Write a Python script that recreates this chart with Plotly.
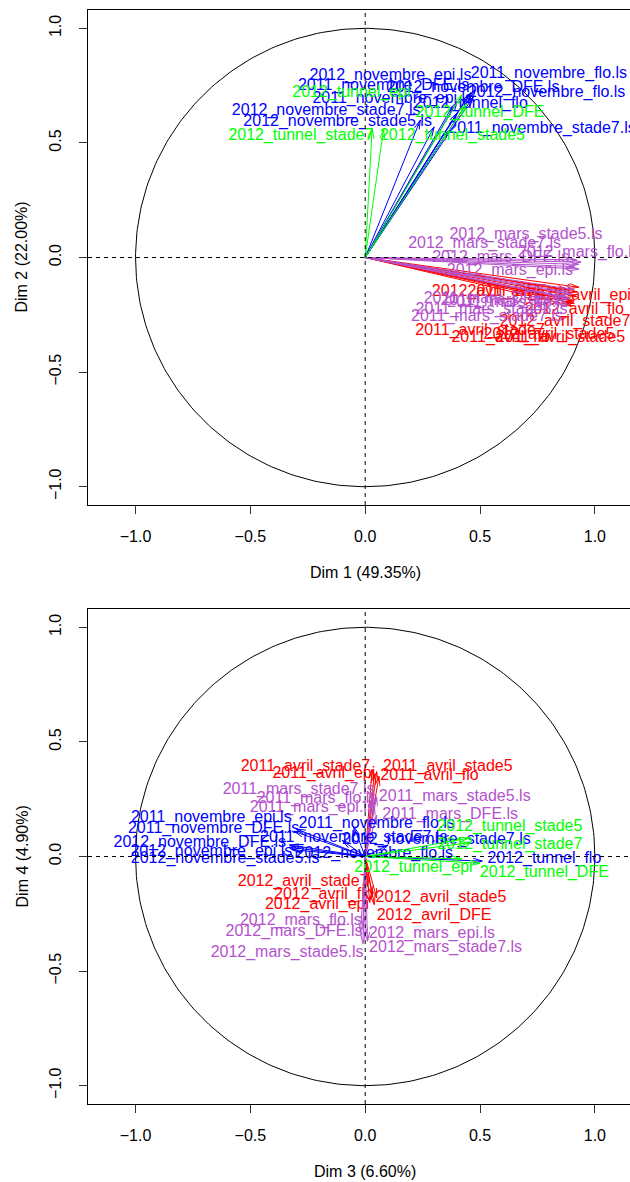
import numpy as np
import plotly.graph_objects as go

# ---------------- data ----------------
variables = [
    "2011_avril_epi", "2011_avril_flo", "2011_avril_stade5", "2011_avril_stade7",
    "2012_avril_epi", "2012_avril_flo", "2012_avril_stade5", "2012_avril_stade7", "2012_avril_DFE",
    "2011_mars_epi.ls", "2011_mars_flo.ls", "2011_mars_stade5.ls", "2011_mars_stade7.ls", "2011_mars_DFE.ls",
    "2012_mars_epi.ls", "2012_mars_flo.ls", "2012_mars_stade5.ls", "2012_mars_stade7.ls", "2012_mars_DFE.ls",
    "2011_novembre_epi.ls", "2011_novembre_flo.ls", "2011_novembre_stade7.ls", "2011_novembre_DFE.ls",
    "2012_novembre_epi.ls", "2012_novembre_flo.ls", "2012_novembre_stade5.ls", "2012_novembre_stade7.ls",
    "2012_novembre_DFE.ls",
    "2012_tunnel_epi", "2012_tunnel_flo", "2012_tunnel_stade5", "2012_tunnel_stade7", "2012_tunnel_DFE",
]
groups = (["avril"] * 9 + ["mars"] * 10 + ["novembre"] * 9 +
          ["tunnel", "novembre", "tunnel", "tunnel", "tunnel"])

dim1 = [0.92, 0.90, 0.91, 0.89, 0.93, 0.92, 0.90, 0.91, 0.88,
        0.88, 0.90, 0.87, 0.89, 0.91,
        0.93, 0.94, 0.92, 0.93, 0.91,
        0.40, 0.48, 0.36, 0.45, 0.38, 0.47, 0.30, 0.24, 0.46,
        0.42, 0.40, 0.08, 0.03, 0.44]
dim2 = [-0.17, -0.19, -0.20, -0.18, -0.13, -0.15, -0.21, -0.19, -0.14,
        -0.15, -0.16, -0.17, -0.18, -0.14,
        -0.05, -0.02, -0.01, -0.03, -0.04,
        0.68, 0.73, 0.55, 0.71, 0.66, 0.70, 0.57, 0.60, 0.72,
        0.71, 0.63, 0.56, 0.56, 0.67]
dim3 = [0.04, 0.06, 0.05, 0.03, 0.02, 0.03, 0.05, 0.01, 0.04,
        0.04, 0.03, 0.05, 0.03, 0.05,
        0.00, -0.01, -0.01, 0.01, -0.02,
        -0.30, -0.05, -0.10, -0.31, -0.33, 0.10, -0.32, 0.10, -0.33,
        0.42, 0.51, 0.45, 0.45, 0.50]
dim4 = [0.36, 0.35, 0.37, 0.38, -0.20, -0.17, -0.18, -0.13, -0.21,
        0.22, 0.25, 0.26, 0.28, 0.18,
        -0.35, -0.30, -0.38, -0.37, -0.33,
        0.12, 0.13, 0.07, 0.11, 0.04, 0.01, 0.03, 0.05, 0.05,
        -0.01, -0.02, 0.08, 0.06, -0.03]

# label centres (placed by the original's label-repel step)
lab12_x = [0.67, 0.59, 0.85, 0.50, 0.93, 0.91, 0.80, 0.87, 0.54,
           0.60, 0.62, 0.55, 0.53, 0.55,
           0.63, 0.93, 0.70, 0.52, 0.59,
           0.12, 0.80, 0.77, 0.08, 0.11, 0.79, -0.12, -0.17, 0.47,
           -0.06, 0.46, 0.38, -0.28, 0.50]
lab12_y = [-0.15, -0.35, -0.35, -0.32, -0.17, -0.23, -0.34, -0.28, -0.15,
           -0.19, -0.20, -0.23, -0.26, -0.18,
           -0.06, 0.02, 0.10, 0.06, 0.00,
           0.69, 0.80, 0.56, 0.75, 0.79, 0.72, 0.59, 0.64, 0.74,
           0.72, 0.67, 0.53, 0.53, 0.63]
lab34_x = [-0.18, 0.28, 0.36, -0.26, -0.21, -0.18, 0.33, -0.27, 0.30,
           -0.23, -0.21, 0.39, -0.29, 0.37,
           0.29, -0.28, -0.34, 0.35, -0.31,
           -0.67, 0.05, -0.05, -0.66, -0.67, 0.04, -0.61, 0.31, -0.72,
           0.21, 0.78, 0.63, 0.63, 0.78]
lab34_y = [0.36, 0.35, 0.39, 0.39, -0.21, -0.17, -0.18, -0.11, -0.26,
           0.21, 0.25, 0.26, 0.29, 0.18,
           -0.34, -0.28, -0.42, -0.40, -0.33,
           0.17, 0.14, 0.08, 0.12, 0.02, 0.01, -0.01, 0.07, 0.06,
           -0.05, -0.01, 0.13, 0.05, -0.07]

group_colors = {"avril": "#FF0000", "mars": "#B452CD", "novembre": "#0000FF", "tunnel": "#00FF00"}

axis_labels = {
    1: "Dim 1 (49.35%)", 2: "Dim 2 (22.00%)",
    3: "Dim 3 (6.60%)", 4: "Dim 4 (4.90%)",
}
tick_vals = [-1.0, -0.5, 0.0, 0.5, 1.0]

# ---------------- figure ----------------
FONT = "Liberation Sans, Arial, Helvetica, sans-serif"
W, H = 630, 1182
ML, MR, MT, MB = 88, 0, 10, 78
XR = [-1.207, 1.153]
YR = [-1.08, 1.08]
px_per_unit = (W - ML - MR) / (XR[1] - XR[0])
head_len = 9.6 / px_per_unit          # 0.1 inch arrow heads
head_ang = np.deg2rad(15)

fig = go.Figure()


def add_panel(xs, ys, lx, ly, xa, ya):
    theta = np.linspace(0, 2 * np.pi, 361)
    fig.add_trace(go.Scatter(x=np.cos(theta), y=np.sin(theta), mode="lines",
                             line=dict(color="black", width=1), hoverinfo="skip",
                             xaxis=xa, yaxis=ya))
    for g, col in group_colors.items():
        px, py = [], []
        tx, ty, tt = [], [], []
        for i, v in enumerate(variables):
            if groups[i] != g:
                continue
            x, y = xs[i], ys[i]
            a = np.arctan2(y, x)
            px += [0, x, None]
            py += [0, y, None]
            for s in (1, -1):
                px += [x - head_len * np.cos(a + s * head_ang), x, None]
                py += [y - head_len * np.sin(a + s * head_ang), y, None]
            tx.append(lx[i]); ty.append(ly[i]); tt.append(v)
        fig.add_trace(go.Scatter(x=px, y=py, mode="lines", line=dict(color=col, width=1),
                                 hoverinfo="skip", xaxis=xa, yaxis=ya))
        fig.add_trace(go.Scatter(x=tx, y=ty, mode="text", text=tt, textposition="middle center",
                                 textfont=dict(family=FONT, size=16, color=col),
                                 hoverinfo="skip", xaxis=xa, yaxis=ya))


add_panel(dim1, dim2, lab12_x, lab12_y, "x", "y")
add_panel(dim3, dim4, lab34_x, lab34_y, "x2", "y2")

axis_common = dict(range=XR, tickvals=tick_vals, tickformat=".1f", ticks="outside", ticklen=8,
                   tickcolor="#333", showline=True, linecolor="black", linewidth=1,
                   showgrid=False, zeroline=False, tickfont=dict(family=FONT, size=16, color="black"),
                   ticklabelstandoff=9)
yaxis_common = dict(range=YR, tickvals=tick_vals, tickformat=".1f", ticks="outside", ticklen=8,
                    tickcolor="#333", showline=True, linecolor="black", linewidth=1,
                    showgrid=False, zeroline=False, tickangle=-90,
                    tickfont=dict(family=FONT, size=16, color="black"), ticklabelstandoff=12)

fig.update_layout(
    width=W, height=H, margin=dict(l=ML, r=MR, t=MT, b=MB),
    plot_bgcolor="white", paper_bgcolor="white", showlegend=False,
    xaxis=dict(axis_common, domain=[0, 1], anchor="y", mirror=True),
    yaxis=dict(yaxis_common, domain=[0.5475, 1.0], anchor="x"),
    xaxis2=dict(axis_common, domain=[0, 1], anchor="y2", mirror=True),
    yaxis2=dict(yaxis_common, domain=[0.0, 0.4525], anchor="x2"),
)

shapes = []
for xr, yr in (("x", "y"), ("x2", "y2")):
    shapes.append(dict(type="line", xref=xr + " domain", yref=yr, x0=0, x1=1, y0=0, y1=0,
                       line=dict(color="black", width=1, dash="4px,4px")))
    shapes.append(dict(type="line", xref=xr, yref=yr + " domain", x0=0, x1=0, y0=0, y1=1,
                       line=dict(color="black", width=1, dash="4px,4px")))
fig.update_layout(shapes=shapes)

ph = H - MT - MB
annots = []
for xr, dom_lo, dom_hi, xl, yl in (("x", 0.5475, 1.0, 1, 2), ("x2", 0.0, 0.4525, 3, 4)):
    bottom_px = H - MB - dom_lo * ph
    top_px = H - MB - dom_hi * ph
    annots.append(dict(text=axis_labels[xl], xref=xr, x=0, yref="paper",
                       y=(H - MB - (bottom_px + 67)) / ph, showarrow=False,
                       font=dict(family=FONT, size=16, color="black"),
                       xanchor="center", yanchor="middle"))
    annots.append(dict(text=axis_labels[yl], xref="paper", x=(22 - ML) / (W - ML - MR),
                       yref="paper", y=(H - MB - (bottom_px + top_px) / 2) / ph,
                       showarrow=False, textangle=-90,
                       font=dict(family=FONT, size=16, color="black"),
                       xanchor="center", yanchor="middle"))
fig.update_layout(annotations=annots)

fig.write_html("out.html", config={"displayModeBar": False, "staticPlot": True},
               post_script="document.body.style.margin='0px';"
               "document.body.style.overflow='hidden';")
